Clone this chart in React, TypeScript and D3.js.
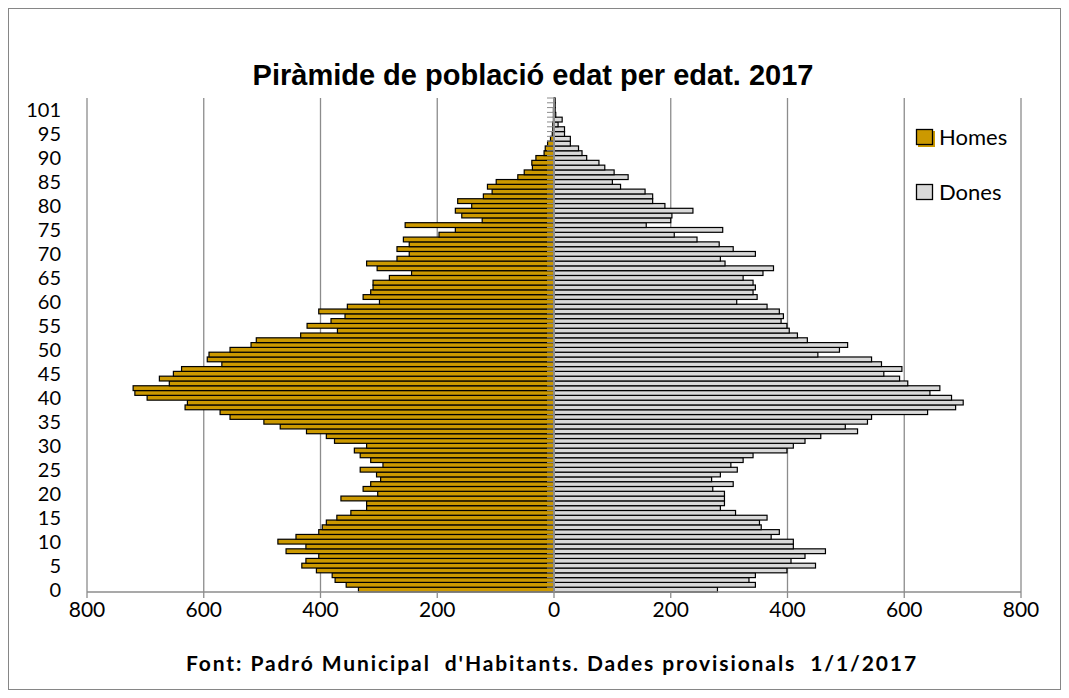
import React from 'react'
import * as d3 from 'd3'

// age categories, bottom (0) to top
const ages = [
  '0', '1', '2', '3', '4', '5', '6', '7', '8', '9',
  '10', '11', '12', '13', '14', '15', '16', '17', '18', '19',
  '20', '21', '22', '23', '24', '25', '26', '27', '28', '29',
  '30', '31', '32', '33', '34', '35', '36', '37', '38', '39',
  '40', '41', '42', '43', '44', '45', '46', '47', '48', '49',
  '50', '51', '52', '53', '54', '55', '56', '57', '58', '59',
  '60', '61', '62', '63', '64', '65', '66', '67', '68', '69',
  '70', '71', '72', '73', '74', '75', '76', '77', '78', '79',
  '80', '81', '82', '83', '84', '85', '86', '87', '88', '89',
  '90', '91', '92', '93', '94', '95', '96', '97', '98', '99',
  '101', '102', '103'
]

const shownAges = ['0', '5', '10', '15', '20', '25', '30', '35', '40', '45', '50',
  '55', '60', '65', '70', '75', '80', '85', '90', '95', '101']

const homes = [
  335, 356, 375, 380, 407, 432, 425, 403, 459, 425,
  473, 442, 403, 397, 390, 372, 348, 321, 321, 365,
  302, 327, 314, 297, 304, 332, 293, 314, 332, 342,
  321, 376, 390, 424, 469, 497, 555, 572, 632, 628,
  697, 718, 721, 659, 676, 652, 638, 569, 594, 591,
  555, 519, 510, 434, 371, 423, 382, 358, 403, 354,
  299, 327, 314, 310, 310, 282, 244, 303, 321, 269,
  248, 269, 248, 258, 197, 169, 255, 123, 158, 169,
  141, 165, 121, 106, 114, 99, 62, 51, 37, 38,
  31, 17, 15, 11, 6, 3, 2, 2, 1, 1,
  1, 0, 0
]

const dones = [
  280, 345, 334, 345, 399, 448, 406, 430, 465, 410,
  410, 372, 386, 355, 352, 365, 311, 285, 292, 292,
  292, 272, 307, 270, 285, 314, 303, 324, 341, 399,
  410, 430, 457, 520, 499, 537, 544, 640, 688, 701,
  681, 644, 661, 606, 592, 565, 596, 561, 544, 452,
  489, 503, 434, 417, 403, 399, 389, 393, 386, 365,
  313, 348, 341, 345, 341, 324, 358, 376, 293, 285,
  345, 307, 283, 245, 206, 289, 158, 200, 202, 238,
  190, 169, 169, 156, 114, 100, 127, 103, 87, 77,
  56, 48, 42, 28, 28, 18, 18, 7, 14, 3,
  2, 2, 2
]

const xTicks = [-800, -600, -400, -200, 0, 200, 400, 600, 800]

const series = [
  { name: 'Homes', color: '#CC9900' },
  { name: 'Dones', color: '#D9D9D9' }
]

const W = 1069
const H = 698
const plot = { left: 87, right: 1021, top: 98, bottom: 592 }
const axisFont = "Lato, 'Open Sans', 'DejaVu Sans', sans-serif"
const gridColor = '#8c8c8c'

export default function App() {
  const x = d3.scaleLinear().domain([-800, 800]).range([plot.left, plot.right])
  const y = d3.scaleBand().domain(ages).range([plot.bottom, plot.top]).padding(0)
  const bw = y.bandwidth()
  const x0 = x(0)

  return (
    <div style={{ position: 'absolute', left: 0, top: 0 }}>
      <svg width={W} height={H} style={{ display: 'block', background: '#fff' }}>
        <rect x={8.5} y={8.5} width={1052} height={681} fill="#fff" stroke="#868686" strokeWidth={1} />

        <text x={533} y={85} textAnchor="middle" fontFamily="'Liberation Sans', Arial, sans-serif"
          fontWeight="bold" fontSize={29} fill="#000">
          Piràmide de població edat per edat. 2017
        </text>

        {/* vertical grid */}
        {xTicks.filter(t => t !== 0).map(t => (
          <line key={'g' + t} x1={x(t)} x2={x(t)} y1={plot.top} y2={plot.bottom}
            stroke={gridColor} strokeWidth={1.3} />
        ))}

        {/* men */}
        {ages.map((a, i) => homes[i] > 0 && (
          <rect key={'h' + a} x={x(-homes[i])} y={y(a)} width={x0 - x(-homes[i])} height={bw}
            fill={series[0].color} stroke="#000" strokeWidth={1.2} />
        ))}
        {/* women */}
        {ages.map((a, i) => dones[i] > 0 && (
          <rect key={'d' + a} x={x0} y={y(a)} width={x(dones[i]) - x0} height={bw}
            fill={series[1].color} stroke="#000" strokeWidth={1.2} />
        ))}

        {/* category axis */}
        <line x1={x0} x2={x0} y1={plot.top} y2={plot.bottom} stroke={gridColor} strokeWidth={2} />
        {ages.map(a => (
          <line key={'t' + a} x1={x0 - 7} x2={x0} y1={y(a)} y2={y(a)} stroke={gridColor} strokeWidth={1} />
        ))}
        {shownAges.map(a => (
          <text key={'l' + a} x={61} y={(y(a) ?? 0) + bw / 2} dy="0.36em" textAnchor="end"
            fontFamily={axisFont} fontSize={20} fill="#000">{a}</text>
        ))}

        {/* value axis */}
        <line x1={plot.left} x2={plot.right} y1={plot.bottom} y2={plot.bottom} stroke={gridColor} strokeWidth={1.5} />
        {xTicks.map(t => (
          <g key={'x' + t}>
            <line x1={x(t)} x2={x(t)} y1={plot.bottom} y2={plot.bottom + 6} stroke={gridColor} strokeWidth={1.3} />
            <text x={x(t)} y={609} dy="0.36em" textAnchor="middle" fontFamily={axisFont} fontSize={21} fill="#000">
              {Math.abs(t)}
            </text>
          </g>
        ))}

        {/* legend */}
        {series.map((s, i) => (
          <g key={s.name} transform={`translate(916,${129 + i * 55})`}>
            {i === 0 && <rect x={2} y={2} width={17} height={16} fill={s.color} />}
            <rect x={0.5} y={0.5} width={16} height={15} fill={s.color} stroke="#000" strokeWidth={1.3} />
            <text x={23} y={8} dy="0.36em" fontFamily={axisFont} fontSize={22} fill="#000">{s.name}</text>
          </g>
        ))}

        <text x={552} y={663} dy="0.36em" textAnchor="middle" fontFamily={axisFont} fontWeight="bold"
          fontSize={21} letterSpacing={1.9} fill="#000" style={{ whiteSpace: 'pre' }}>
          {"Font: Padró Municipal  d'Habitants. Dades provisionals  1/1/2017"}
        </text>
      </svg>
    </div>
  )
}
